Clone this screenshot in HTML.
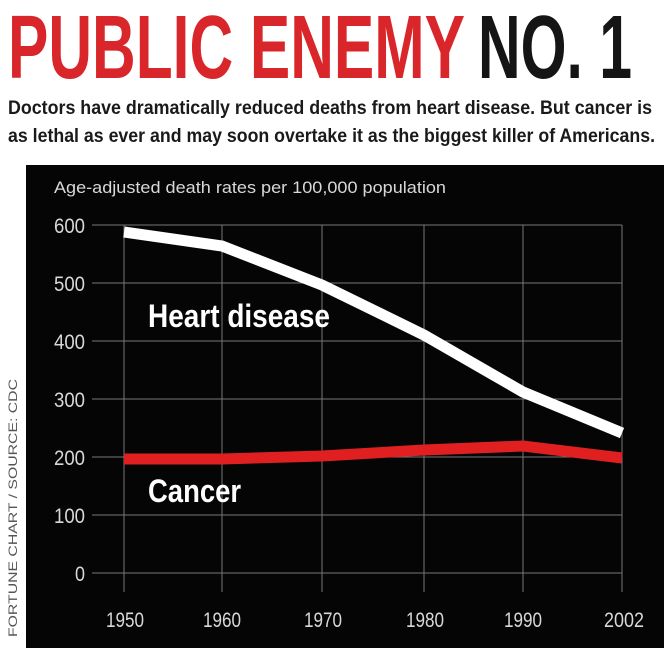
<!DOCTYPE html>
<html><head><meta charset="utf-8"><style>
html,body{margin:0;padding:0;background:#fff;width:672px;height:660px;overflow:hidden}
svg{display:block}
</style></head><body>
<svg width="672" height="660" viewBox="0 0 672 660" xmlns="http://www.w3.org/2000/svg" font-family="'Liberation Sans Narrow','Liberation Sans',sans-serif">
<rect width="672" height="660" fill="#fff"/>
<text x="8" y="78" font-size="90" font-weight="bold" fill="#d9262a" textLength="457" lengthAdjust="spacingAndGlyphs">PUBLIC ENEMY</text>
<text x="478" y="78" font-size="90" font-weight="bold" fill="#151515" textLength="154" lengthAdjust="spacingAndGlyphs">NO. 1</text>
<text x="8" y="114" font-size="19" font-weight="bold" fill="#1a1a1a" textLength="644" lengthAdjust="spacingAndGlyphs">Doctors have dramatically reduced deaths from heart disease. But cancer is</text>
<text x="8" y="142" font-size="19" font-weight="bold" fill="#1a1a1a" textLength="647" lengthAdjust="spacingAndGlyphs">as lethal as ever and may soon overtake it as the biggest killer of Americans.</text>
<rect x="26" y="165" width="638" height="483" fill="#050505"/>
<text x="54" y="193" font-size="17" fill="#d8d8d8" textLength="392" lengthAdjust="spacingAndGlyphs">Age-adjusted death rates per 100,000 population</text>
<g stroke="#777" stroke-width="1">
<line x1="92" y1="225" x2="622" y2="225"/><line x1="92" y1="283" x2="622" y2="283"/>
<line x1="92" y1="341" x2="622" y2="341"/><line x1="92" y1="399" x2="622" y2="399"/>
<line x1="92" y1="457" x2="622" y2="457"/><line x1="92" y1="515" x2="622" y2="515"/>
<line x1="92" y1="573" x2="622" y2="573"/>
<line x1="124" y1="225" x2="124" y2="592"/><line x1="222" y1="225" x2="222" y2="592"/>
<line x1="322" y1="225" x2="322" y2="592"/><line x1="424" y1="225" x2="424" y2="592"/>
<line x1="523" y1="225" x2="523" y2="592"/><line x1="622" y1="225" x2="622" y2="592"/>
</g>
<g font-size="21" fill="#d8d8d8">
<text x="54" y="233" textLength="31" lengthAdjust="spacingAndGlyphs">600</text><text x="54" y="291" textLength="31" lengthAdjust="spacingAndGlyphs">500</text><text x="54" y="349" textLength="31" lengthAdjust="spacingAndGlyphs">400</text>
<text x="54" y="407" textLength="31" lengthAdjust="spacingAndGlyphs">300</text><text x="54" y="465" textLength="31" lengthAdjust="spacingAndGlyphs">200</text><text x="54" y="523" textLength="31" lengthAdjust="spacingAndGlyphs">100</text>
<text x="75" y="581" textLength="10" lengthAdjust="spacingAndGlyphs">0</text>
</g>
<g font-size="21" fill="#d8d8d8">
<text x="106" y="627" textLength="38" lengthAdjust="spacingAndGlyphs">1950</text><text x="203" y="627" textLength="38" lengthAdjust="spacingAndGlyphs">1960</text><text x="304" y="627" textLength="38" lengthAdjust="spacingAndGlyphs">1970</text>
<text x="406" y="627" textLength="38" lengthAdjust="spacingAndGlyphs">1980</text><text x="504" y="627" textLength="38" lengthAdjust="spacingAndGlyphs">1990</text><text x="604" y="627" textLength="40" lengthAdjust="spacingAndGlyphs">2002</text>
</g>
<polyline points="124,232 222,246 322,285 424,335 523,392 622,433" fill="none" stroke="#fff" stroke-width="11"/>
<polyline points="124,459 222,459 322,456 424,450 523,446 622,458" fill="none" stroke="#e02020" stroke-width="11"/>
<text x="148" y="327" font-size="32" font-weight="bold" fill="#fff" textLength="182" lengthAdjust="spacingAndGlyphs">Heart disease</text>
<text x="148" y="502" font-size="32" font-weight="bold" fill="#fff" textLength="93" lengthAdjust="spacingAndGlyphs">Cancer</text>
<text transform="translate(17,637) rotate(-90)" font-size="12" fill="#555" textLength="258" lengthAdjust="spacingAndGlyphs">FORTUNE CHART / SOURCE: CDC</text>
</svg>
</body></html>
